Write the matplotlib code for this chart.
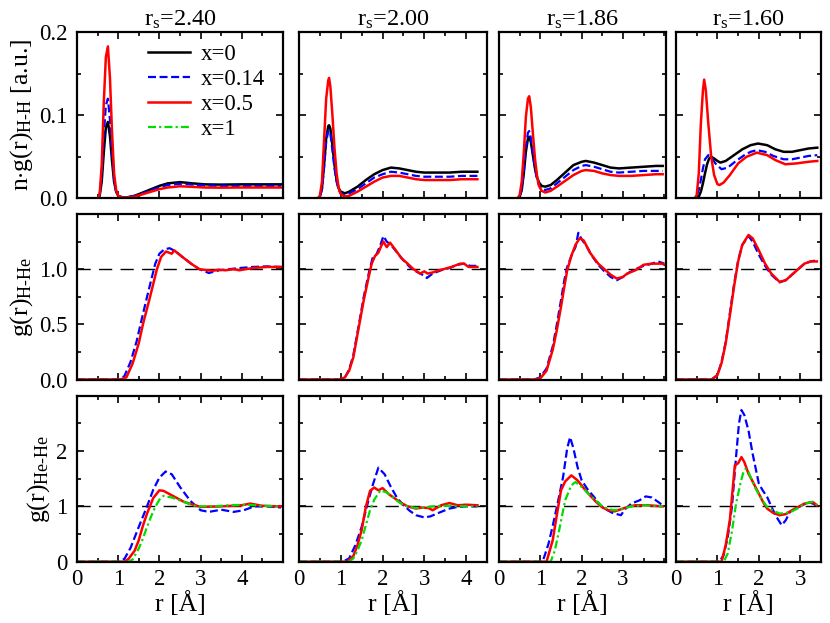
import matplotlib
matplotlib.use("Agg")
import matplotlib.pyplot as plt
from matplotlib.ticker import MultipleLocator, FormatStrFormatter

plt.rcParams['font.family'] = ['Liberation Serif', 'DejaVu Serif']
plt.rcParams['mathtext.fontset'] = 'custom'
plt.rcParams['mathtext.rm'] = 'Liberation Serif'
plt.rcParams['mathtext.it'] = 'Liberation Serif:italic'
plt.rcParams['mathtext.bf'] = 'Liberation Serif:bold'

# ---------------- data ----------------
rs_labels = ["2.40", "2.00", "1.86", "1.60"]
series_labels = ["x=0", "x=0.14", "x=0.5", "x=1"]
x_limits = [5.0, 4.5, 4.04, 3.5]
y_ticklabels = [[0.0, 0.1, 0.2], [0.0, 0.5, 1.0], [0, 1, 2]]

# Row 1: n*g_HH
hh1_r = [0, 0.5, 0.55, 0.6, 0.65, 0.7, 0.75, 0.8, 0.85, 0.9, 0.95, 1.0, 1.1, 1.2, 1.4, 1.6, 1.8, 2.0, 2.2, 2.5, 2.8, 3.1, 3.5, 4.0, 4.5, 4.95]
hh1_x0 = [0, 0, 0.003, 0.02, 0.055, 0.085, 0.092, 0.075, 0.045, 0.02, 0.008, 0.003, 0.001, 0.001, 0.003, 0.007, 0.011, 0.015, 0.018, 0.0195, 0.018, 0.0168, 0.0165, 0.0168, 0.0168, 0.0168]
hh1_x014 = [0, 0, 0.004, 0.028, 0.075, 0.112, 0.12, 0.095, 0.055, 0.022, 0.008, 0.003, 0.001, 0.001, 0.003, 0.006, 0.01, 0.013, 0.016, 0.0175, 0.0165, 0.0155, 0.015, 0.015, 0.015, 0.015]
hh1_x05 = [0, 0, 0.005, 0.04, 0.115, 0.17, 0.183, 0.145, 0.08, 0.03, 0.01, 0.003, 0.001, 0.001, 0.002, 0.005, 0.008, 0.011, 0.013, 0.0145, 0.0138, 0.013, 0.0128, 0.013, 0.013, 0.013]

hh2_r = [0, 0.45, 0.5, 0.55, 0.6, 0.65, 0.7, 0.72, 0.75, 0.8, 0.85, 0.9, 0.95, 1.0, 1.1, 1.2, 1.4, 1.6, 1.8, 2.0, 2.2, 2.4, 2.6, 2.8, 3.0, 3.3, 3.6, 3.9, 4.27]
hh2_x0 = [0, 0, 0.002, 0.012, 0.04, 0.072, 0.087, 0.088, 0.084, 0.064, 0.04, 0.022, 0.012, 0.008, 0.006, 0.008, 0.014, 0.022, 0.029, 0.034, 0.037, 0.036, 0.034, 0.032, 0.031, 0.031, 0.031, 0.032, 0.032]
hh2_x014 = [0, 0, 0.002, 0.011, 0.037, 0.068, 0.081, 0.082, 0.078, 0.058, 0.036, 0.02, 0.01, 0.006, 0.004, 0.006, 0.011, 0.018, 0.025, 0.029, 0.032, 0.031, 0.029, 0.027, 0.026, 0.026, 0.026, 0.027, 0.027]
hh2_x05 = [0, 0, 0.003, 0.02, 0.07, 0.12, 0.142, 0.145, 0.135, 0.1, 0.06, 0.03, 0.012, 0.005, 0.002, 0.003, 0.008, 0.014, 0.02, 0.025, 0.027, 0.027, 0.025, 0.023, 0.022, 0.022, 0.022, 0.023, 0.023]

hh3_r = [0, 0.45, 0.5, 0.55, 0.6, 0.65, 0.7, 0.73, 0.77, 0.82, 0.87, 0.92, 0.97, 1.03, 1.12, 1.25, 1.4, 1.6, 1.8, 2.0, 2.1, 2.3, 2.5, 2.7, 2.9, 3.2, 3.5, 3.8, 3.96]
hh3_x0 = [0, 0, 0.002, 0.01, 0.03, 0.056, 0.072, 0.074, 0.068, 0.052, 0.036, 0.025, 0.019, 0.015, 0.014, 0.016, 0.022, 0.031, 0.04, 0.044, 0.045, 0.043, 0.04, 0.037, 0.036, 0.037, 0.038, 0.039, 0.039]
hh3_x014 = [0, 0, 0.002, 0.011, 0.033, 0.062, 0.079, 0.081, 0.073, 0.054, 0.036, 0.023, 0.015, 0.011, 0.01, 0.012, 0.018, 0.026, 0.034, 0.039, 0.04, 0.038, 0.035, 0.032, 0.031, 0.032, 0.033, 0.033, 0.033]
hh3_x05 = [0, 0, 0.004, 0.02, 0.055, 0.098, 0.12, 0.123, 0.11, 0.078, 0.048, 0.027, 0.015, 0.009, 0.007, 0.009, 0.014, 0.021, 0.028, 0.033, 0.034, 0.033, 0.03, 0.028, 0.027, 0.027, 0.028, 0.029, 0.029]

hh4_r_x0 = [0, 0.5, 0.55, 0.6, 0.65, 0.7, 0.75, 0.8, 0.85, 0.92, 1.0, 1.07, 1.2, 1.4, 1.6, 1.8, 1.98, 2.2, 2.4, 2.6, 2.8, 3.0, 3.2, 3.41]
hh4_x0 = [0, 0, 0.002, 0.008, 0.018, 0.03, 0.041, 0.048, 0.05, 0.048, 0.045, 0.043, 0.045, 0.052, 0.059, 0.064, 0.066, 0.064, 0.059, 0.056, 0.056, 0.058, 0.06, 0.061]
hh4_r_x014 = [0, 0.45, 0.5, 0.55, 0.6, 0.65, 0.7, 0.78, 0.85, 0.95, 1.1, 1.25, 1.45, 1.65, 1.8, 1.95, 2.15, 2.35, 2.6, 2.8, 3.0, 3.2, 3.41]
hh4_x014 = [0, 0, 0.003, 0.01, 0.022, 0.036, 0.047, 0.052, 0.05, 0.042, 0.035, 0.037, 0.045, 0.052, 0.056, 0.058, 0.056, 0.051, 0.047, 0.047, 0.049, 0.051, 0.052]
hh4_r_x05 = [0, 0.45, 0.5, 0.55, 0.6, 0.65, 0.68, 0.72, 0.78, 0.85, 0.92, 1.0, 1.05, 1.15, 1.3, 1.5, 1.7, 1.95, 2.2, 2.4, 2.64, 2.9, 3.2, 3.41]
hh4_x05 = [0, 0, 0.004, 0.03, 0.09, 0.13, 0.143, 0.13, 0.09, 0.05, 0.028, 0.017, 0.016, 0.019, 0.028, 0.042, 0.05, 0.055, 0.052, 0.046, 0.041, 0.042, 0.044, 0.045]

# Row 2: g_H-He
hhe1_r_x014 = [0, 1.0, 1.15, 1.3, 1.45, 1.56, 1.72, 1.9, 2.0, 2.12, 2.25, 2.4, 2.56, 2.77, 2.97, 3.2, 3.45, 3.7, 3.94, 4.26, 4.6, 4.95]
hhe1_x014 = [0, 0, 0.03, 0.16, 0.35, 0.53, 0.78, 1.05, 1.14, 1.18, 1.19, 1.16, 1.11, 1.05, 1.0, 0.965, 0.99, 1.0, 1.01, 1.02, 1.025, 1.02]
hhe1_r_x05 = [0, 1.05, 1.2, 1.35, 1.5, 1.6, 1.76, 1.94, 2.04, 2.16, 2.3, 2.36, 2.56, 2.77, 2.97, 3.29, 3.45, 3.61, 3.8, 3.94, 4.26, 4.6, 4.95]
hhe1_x05 = [0, 0, 0.02, 0.145, 0.33, 0.5, 0.73, 1.0, 1.11, 1.16, 1.14, 1.17, 1.11, 1.05, 1.0, 0.985, 0.995, 0.99, 1.0, 0.99, 1.01, 1.02, 1.02]

hhe2_r_x014 = [0, 0.98, 1.1, 1.2, 1.3, 1.42, 1.55, 1.68, 1.76, 1.85, 1.95, 2.02, 2.1, 2.2, 2.35, 2.5, 2.65, 2.8, 2.95, 3.06, 3.2, 3.4, 3.6, 3.8, 3.95, 4.1, 4.27]
hhe2_x014 = [0, 0, 0.02, 0.09, 0.22, 0.47, 0.75, 0.98, 1.1, 1.13, 1.22, 1.3, 1.25, 1.22, 1.15, 1.08, 1.02, 0.98, 0.95, 0.92, 0.96, 0.99, 1.01, 1.04, 1.05, 1.03, 1.03]
hhe2_r_x05 = [0, 0.98, 1.1, 1.2, 1.3, 1.42, 1.55, 1.68, 1.74, 1.82, 1.9, 1.98, 2.02, 2.1, 2.18, 2.3, 2.45, 2.6, 2.74, 2.9, 3.0, 3.08, 3.2, 3.35, 3.46, 3.65, 3.86, 3.95, 4.06, 4.27]
hhe2_x05 = [0, 0, 0.02, 0.08, 0.2, 0.45, 0.72, 0.95, 1.05, 1.12, 1.15, 1.22, 1.25, 1.2, 1.24, 1.18, 1.1, 1.05, 1.0, 0.96, 0.98, 0.96, 0.97, 0.99, 1.0, 1.02, 1.05, 1.05, 1.02, 1.02]

hhe3_r_x014 = [0, 0.85, 1.0, 1.15, 1.3, 1.4, 1.5, 1.58, 1.65, 1.75, 1.85, 1.92, 2.0, 2.1, 2.25, 2.4, 2.55, 2.7, 2.85, 3.0, 3.15, 3.3, 3.5, 3.7, 3.85, 4.0]
hhe3_x014 = [0, 0, 0.02, 0.1, 0.3, 0.5, 0.72, 0.9, 1.02, 1.12, 1.2, 1.33, 1.27, 1.22, 1.12, 1.04, 0.98, 0.93, 0.9, 0.93, 0.97, 1.0, 1.03, 1.05, 1.07, 1.05]
hhe3_r_x05 = [0, 0.85, 1.0, 1.15, 1.3, 1.4, 1.5, 1.58, 1.65, 1.75, 1.85, 1.95, 2.05, 2.2, 2.4, 2.55, 2.7, 2.85, 3.0, 3.1, 3.3, 3.5, 3.7, 3.95, 4.0]
hhe3_x05 = [0, 0, 0.01, 0.08, 0.27, 0.45, 0.66, 0.84, 0.99, 1.12, 1.22, 1.28, 1.26, 1.15, 1.05, 1.0, 0.95, 0.915, 0.93, 0.96, 0.99, 1.04, 1.05, 1.05, 1.04]

hhe4_r = [0, 0.86, 1.0, 1.1, 1.2, 1.3, 1.4, 1.5, 1.6, 1.75, 1.85, 2.0, 2.15, 2.3, 2.5, 2.65, 2.8, 2.95, 3.1, 3.25, 3.4]
hhe4_x014 = [0, 0, 0.04, 0.16, 0.34, 0.6, 0.86, 1.08, 1.22, 1.3, 1.25, 1.13, 1.03, 0.95, 0.88, 0.9, 0.95, 1.0, 1.05, 1.07, 1.08]
hhe4_x05 = [0, 0, 0.04, 0.15, 0.33, 0.58, 0.84, 1.07, 1.22, 1.31, 1.28, 1.17, 1.05, 0.96, 0.885, 0.9, 0.95, 1.0, 1.05, 1.07, 1.07]

# Row 3: g_He-He
hehe1_r_x014 = [0, 1.0, 1.15, 1.3, 1.5, 1.7, 1.85, 2.0, 2.15, 2.3, 2.5, 2.75, 3.0, 3.2, 3.5, 3.8, 4.05, 4.3, 4.6, 4.95]
hehe1_x014 = [0, 0, 0.05, 0.25, 0.63, 1.0, 1.3, 1.52, 1.63, 1.58, 1.35, 1.1, 0.93, 0.9, 0.94, 0.9, 0.93, 1.0, 1.0, 0.98]
hehe1_r_x05 = [0, 1.15, 1.25, 1.4, 1.5, 1.6, 1.7, 1.85, 2.0, 2.1, 2.3, 2.6, 3.0, 3.5, 4.0, 4.2, 4.5, 4.95]
hehe1_x05 = [0, 0, 0.05, 0.2, 0.39, 0.65, 0.87, 1.15, 1.29, 1.28, 1.2, 1.08, 0.99, 1.0, 1.02, 1.05, 1.01, 1.0]
hehe1_r_x1 = [0, 1.25, 1.35, 1.5, 1.6, 1.7, 1.8, 1.9, 2.0, 2.1, 2.3, 2.5, 2.7, 2.9, 3.3, 3.7, 4.1, 4.5, 4.95]
hehe1_x1 = [0, 0, 0.04, 0.24, 0.42, 0.63, 0.82, 0.99, 1.12, 1.19, 1.16, 1.11, 1.05, 1.0, 1.0, 1.02, 1.03, 1.01, 1.0]

hehe2_r_x014 = [0, 1.05, 1.2, 1.35, 1.5, 1.6, 1.75, 1.9, 2.05, 2.2, 2.35, 2.5, 2.65, 2.8, 3.0, 3.15, 3.3, 3.6, 3.8, 4.0, 4.27]
hehe2_x014 = [0, 0, 0.06, 0.3, 0.63, 0.93, 1.35, 1.7, 1.58, 1.35, 1.15, 1.02, 0.92, 0.84, 0.8, 0.82, 0.87, 0.96, 0.99, 1.0, 1.0]
hehe2_r_x05 = [0, 1.15, 1.3, 1.4, 1.5, 1.6, 1.7, 1.8, 1.9, 2.0, 2.15, 2.3, 2.45, 2.6, 2.8, 2.95, 3.1, 3.2, 3.4, 3.6, 3.8, 4.0, 4.27]
hehe2_x05 = [0, 0, 0.1, 0.3, 0.57, 0.99, 1.28, 1.34, 1.29, 1.33, 1.22, 1.14, 1.06, 1.0, 0.96, 0.98, 0.97, 0.93, 1.02, 1.06, 1.02, 1.03, 1.02]
hehe2_r_x1 = [0, 1.2, 1.3, 1.4, 1.5, 1.6, 1.7, 1.8, 1.95, 2.1, 2.2, 2.35, 2.5, 2.65, 2.8, 3.0, 3.2, 3.6, 4.0, 4.27]
hehe2_x1 = [0, 0, 0.06, 0.2, 0.39, 0.66, 0.93, 1.12, 1.29, 1.25, 1.2, 1.1, 1.02, 0.99, 0.97, 0.98, 1.0, 1.01, 1.0, 1.0]

hehe3_r_x014 = [0, 1.05, 1.1, 1.2, 1.3, 1.4, 1.55, 1.65, 1.72, 1.8, 1.9, 2.0, 2.15, 2.3, 2.45, 2.55, 2.75, 2.95, 3.05, 3.2, 3.4, 3.55, 3.7, 3.85, 3.96]
hehe3_x014 = [0, 0, 0.1, 0.33, 0.65, 0.99, 1.53, 2.05, 2.25, 2.05, 1.71, 1.47, 1.3, 1.17, 1.02, 0.96, 0.88, 0.84, 0.95, 1.05, 1.11, 1.18, 1.16, 1.08, 1.02]
hehe3_r_x05 = [0, 1.15, 1.3, 1.4, 1.5, 1.6, 1.75, 1.9, 2.05, 2.2, 2.35, 2.5, 2.65, 2.8, 3.0, 3.15, 3.3, 3.6, 3.96]
hehe3_x05 = [0, 0, 0.39, 0.85, 1.29, 1.45, 1.56, 1.47, 1.33, 1.2, 1.08, 0.98, 0.93, 0.91, 0.96, 1.0, 1.02, 1.02, 1.0]
hehe3_r_x1 = [0, 1.25, 1.35, 1.45, 1.6, 1.75, 1.85, 2.0, 2.2, 2.35, 2.5, 2.65, 2.8, 3.0, 3.2, 3.5, 3.96]
hehe3_x1 = [0, 0, 0.2, 0.55, 1.11, 1.38, 1.44, 1.35, 1.2, 1.1, 1.0, 0.95, 0.93, 0.96, 1.0, 1.02, 1.0]

hehe4_r_x014 = [0, 1.05, 1.15, 1.25, 1.35, 1.45, 1.52, 1.58, 1.65, 1.75, 1.85, 2.0, 2.1, 2.2, 2.3, 2.4, 2.55, 2.65, 2.75, 2.9, 3.0, 3.2, 3.4]
hehe4_x014 = [0, 0, 0.12, 0.45, 0.99, 1.9, 2.5, 2.74, 2.65, 2.37, 1.95, 1.41, 1.28, 1.17, 1.0, 0.84, 0.66, 0.75, 0.9, 0.97, 1.0, 1.08, 1.02]
hehe4_r_x05 = [0, 1.1, 1.2, 1.3, 1.42, 1.5, 1.58, 1.65, 1.75, 1.85, 2.0, 2.1, 2.2, 2.35, 2.5, 2.65, 2.8, 2.95, 3.1, 3.3, 3.4]
hehe4_x05 = [0, 0, 0.3, 0.75, 1.74, 1.78, 1.89, 1.8, 1.59, 1.45, 1.23, 1.08, 0.96, 0.88, 0.84, 0.86, 0.93, 0.99, 1.05, 1.08, 1.02]
hehe4_r_x1 = [0, 1.15, 1.25, 1.35, 1.45, 1.55, 1.62, 1.68, 1.75, 1.9, 2.05, 2.2, 2.35, 2.5, 2.65, 2.8, 2.95, 3.1, 3.3, 3.4]
hehe4_x1 = [0, 0, 0.15, 0.55, 1.05, 1.4, 1.6, 1.68, 1.62, 1.35, 1.15, 0.99, 0.92, 0.87, 0.88, 0.91, 0.97, 1.05, 1.08, 1.03]

# --------------- styles ----------------
BLACK = dict(color='black', lw=1.8, ls='-')
BLUE = dict(color='#0000ff', lw=1.6, dashes=(3.6, 1.6))
RED = dict(color='#ff0000', lw=1.8, ls='-')
GREEN = dict(color='#00dd00', lw=1.6, dashes=(3.6, 1.4, 1.0, 1.4))

row1 = [
    [(hh1_r, hh1_x0, BLACK), (hh1_r, hh1_x014, BLUE), (hh1_r, hh1_x05, RED)],
    [(hh2_r, hh2_x0, BLACK), (hh2_r, hh2_x014, BLUE), (hh2_r, hh2_x05, RED)],
    [(hh3_r, hh3_x0, BLACK), (hh3_r, hh3_x014, BLUE), (hh3_r, hh3_x05, RED)],
    [(hh4_r_x0, hh4_x0, BLACK), (hh4_r_x014, hh4_x014, BLUE), (hh4_r_x05, hh4_x05, RED)],
]
row2 = [
    [(hhe1_r_x014, hhe1_x014, BLUE), (hhe1_r_x05, hhe1_x05, RED)],
    [(hhe2_r_x014, hhe2_x014, BLUE), (hhe2_r_x05, hhe2_x05, RED)],
    [(hhe3_r_x014, hhe3_x014, BLUE), (hhe3_r_x05, hhe3_x05, RED)],
    [(hhe4_r, hhe4_x014, BLUE), (hhe4_r, hhe4_x05, RED)],
]
row3 = [
    [(hehe1_r_x014, hehe1_x014, BLUE), (hehe1_r_x05, hehe1_x05, RED), (hehe1_r_x1, hehe1_x1, GREEN)],
    [(hehe2_r_x014, hehe2_x014, BLUE), (hehe2_r_x05, hehe2_x05, RED), (hehe2_r_x1, hehe2_x1, GREEN)],
    [(hehe3_r_x014, hehe3_x014, BLUE), (hehe3_r_x05, hehe3_x05, RED), (hehe3_r_x1, hehe3_x1, GREEN)],
    [(hehe4_r_x014, hehe4_x014, BLUE), (hehe4_r_x05, hehe4_x05, RED), (hehe4_r_x1, hehe4_x1, GREEN)],
]
rows = [row1, row2, row3]

# --------------- layout ----------------
W, H = 830, 623
fig = plt.figure(figsize=(W / 100, H / 100), dpi=100)
col_l = [77, 299, 499, 676]
col_r = [283, 487, 666, 821]
row_t = [32.3, 214, 395.7]
row_b = [198.3, 379.5, 561.7]

ylims = [(0, 0.2), (0, 1.5), (0, 3.0)]
ymin = [0.05, 0.25, 0.5]
yfmt = ['%.1f', '%.1f', '%d']
ylabels = [r'n$\cdot$g(r)$_{\mathrm{H\text{-}H}}$ [a.u.]',
           r'g(r)$_{\mathrm{H\text{-}He}}$',
           r'g(r)$_{\mathrm{He\text{-}He}}$']
FS_TICK = 16.5
FS_TITLE = 17.5
FS_LAB = 18.5

for i in range(3):
    for j in range(4):
        ax = fig.add_axes([col_l[j] / W, 1 - row_b[i] / H,
                           (col_r[j] - col_l[j]) / W, (row_b[i] - row_t[i]) / H])
        for (rr, yy, st) in rows[i][j]:
            ax.plot(rr, yy, **st)
        if i > 0:
            ax.axhline(1.0, color='black', lw=1.0, dashes=(9.5, 6), zorder=0.5)
        ax.set_xlim(0, x_limits[j])
        ax.set_ylim(*ylims[i])
        ax.set_xticks([t for t in range(0, 6) if t < x_limits[j] - 0.1])
        ax.xaxis.set_minor_locator(MultipleLocator(0.5))
        ax.set_yticks(y_ticklabels[i])
        ax.yaxis.set_minor_locator(MultipleLocator(ymin[i]))
        ax.yaxis.set_major_formatter(FormatStrFormatter(yfmt[i]))
        ax.tick_params(which='both', direction='in', top=True, right=True,
                       labelsize=FS_TICK, width=1.2)
        ax.tick_params(axis='y', pad=7)
        ax.tick_params(axis='x', pad=5)
        ax.tick_params(which='major', length=5)
        ax.tick_params(which='minor', length=3)
        for s in ax.spines.values():
            s.set_linewidth(1.6)
        if j > 0:
            ax.tick_params(labelleft=False)
        else:
            ax.set_ylabel(ylabels[i], fontsize=FS_LAB, labelpad=3)
        if i < 2:
            ax.tick_params(labelbottom=False)
        else:
            ax.set_xlabel('r [Å]', fontsize=FS_LAB, labelpad=1)
        if i == 0:
            ax.set_title(r'r$_\mathrm{s}$=' + rs_labels[j], fontsize=FS_TITLE, pad=5)
        if i == 0 and j == 0:
            handles = [plt.Line2D([], [], **BLACK), plt.Line2D([], [], **BLUE),
                       plt.Line2D([], [], **RED), plt.Line2D([], [], **GREEN)]
            ax.legend(handles, series_labels, loc='upper left',
                      bbox_to_anchor=(0.345, 0.93), frameon=False, fontsize=FS_TICK,
                      handlelength=1.85, handletextpad=0.45, labelspacing=0.18,
                      borderaxespad=0, borderpad=0)

fig.savefig('out.png', dpi=100)
